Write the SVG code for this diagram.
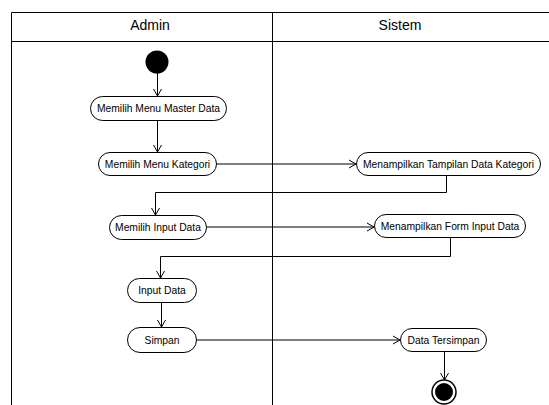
<svg xmlns="http://www.w3.org/2000/svg" width="549" height="405" viewBox="0 0 549 405">
<defs>
<style>
.lane{fill:none;stroke:#000;stroke-width:1}
.node rect{fill:#fff;stroke:#000;stroke-width:1}
.node text{font-family:"Liberation Sans",Arial,sans-serif;font-size:10.3px;fill:#000;text-anchor:middle}
.hdr{font-family:"Liberation Sans",Arial,sans-serif;font-size:14px;fill:#000;text-anchor:middle}
.edge{fill:none;stroke:#000;stroke-width:1;marker-end:url(#arr)}
</style>
<marker id="arr" markerWidth="10" markerHeight="10" refX="8" refY="5" orient="auto" markerUnits="userSpaceOnUse">
<path d="M1,1 L8,5 L1,9" fill="none" stroke="#000" stroke-width="1"/>
</marker>
</defs>
<rect width="549" height="405" fill="#fff"/>
<g id="swimlanes">
<path class="lane" d="M11.5,405 V12.5 H549 M11.5,41.5 H549 M272.5,12.5 V405"/>
<text class="hdr" x="150" y="29.5">Admin</text>
<text class="hdr" x="400" y="29.5">Sistem</text>
</g>
<g id="start"><circle cx="157" cy="62" r="11.5" fill="#000"/></g>
<g id="n1" class="node"><rect x="90.5" y="96.5" width="136" height="24" rx="12"/><text x="158.5" y="112">Memilih Menu Master Data</text></g>
<g id="n2" class="node"><rect x="98.5" y="152.5" width="118" height="23" rx="11.5"/><text x="157.5" y="167.5">Memilih Menu Kategori</text></g>
<g id="n3" class="node"><rect x="356.5" y="152.5" width="184" height="23" rx="11.5"/><text x="448.5" y="167.5">Menampilkan Tampilan Data Kategori</text></g>
<g id="n4" class="node"><rect x="109.5" y="215.5" width="97" height="24" rx="12"/><text x="158" y="231">Memilih Input Data</text></g>
<g id="n5" class="node"><rect x="374.5" y="214.5" width="151" height="23" rx="11.5"/><text x="450" y="229.5">Menampilkan Form Input Data</text></g>
<g id="n6" class="node"><rect x="127.5" y="278.5" width="69" height="24" rx="12"/><text x="162" y="294">Input Data</text></g>
<g id="n7" class="node"><rect x="127.5" y="327.5" width="69" height="25" rx="12.5"/><text x="162" y="343.5">Simpan</text></g>
<g id="n8" class="node"><rect x="400.5" y="328.5" width="86" height="23" rx="11.5"/><text x="443.5" y="343.5">Data Tersimpan</text></g>
<g id="end"><circle cx="444" cy="392" r="12" fill="#fff" stroke="#000" stroke-width="1.5"/><circle cx="444" cy="392" r="9" fill="#000"/></g>
<g id="connectors">
<path class="edge" d="M157.5,73 V96"/>
<path class="edge" d="M157.5,120.5 V152"/>
<path class="edge" d="M216.5,164 H356"/>
<path class="edge" d="M446.5,175.5 V192.5 H155.5 V215"/>
<path class="edge" d="M206.5,227 H374"/>
<path class="edge" d="M450.5,237.5 V256.5 H160.5 V278"/>
<path class="edge" d="M161.5,302.5 V327"/>
<path class="edge" d="M196.5,340 H400"/>
<path class="edge" d="M444.5,351.5 V380"/>
</g>
</svg>
